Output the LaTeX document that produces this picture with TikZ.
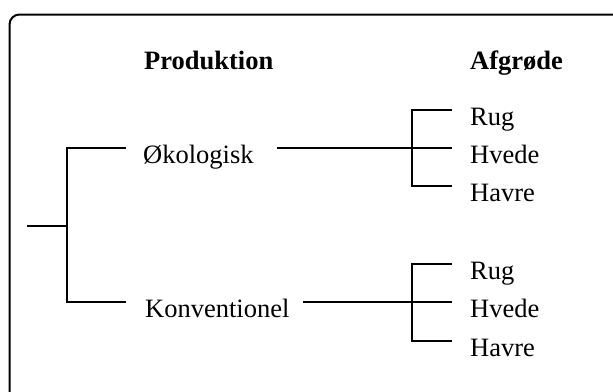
\documentclass[tikz,border=0pt]{standalone}
\usepackage{fontspec}
\setmainfont{Liberation Serif}
\begin{document}
\begin{tikzpicture}[x=1pt,y=-1pt,
  lbl/.style={inner sep=0pt, anchor=west, text height=31pt, text depth=0pt,
              font=\fontsize{26.5}{30}\selectfont},
  hdr/.style={lbl, font=\fontsize{26.5}{30}\selectfont\bfseries},
  branch/.style={line width=1.5pt, line cap=rect},
  frame/.style={line width=2pt, rounded corners=10pt}]
\clip (0,0) rectangle (613,391);
\fill[white] (0,0) rectangle (613,391);

% outer frame, running off the page to the right and bottom
\draw[frame] (9.5,400) -- (9.5,14.5) -- (625,14.5);

% column headers
\node[hdr] (prod) at (144,54) {Produktion};
\node[hdr] (afg)  at (470,54) {Afgrøde};

% production types
\node[lbl] (oko)  at (143,148) {Økologisk};
\node[lbl] (konv) at (145,302) {Konventionel};

% crops, organic
\node[lbl] (rugA)   at (470,110) {Rug};
\node[lbl] (hvedeA) at (470,148) {Hvede};
\node[lbl] (havreA) at (470,186) {Havre};

% crops, conventional
\node[lbl] (rugB)   at (470,264) {Rug};
\node[lbl] (hvedeB) at (470,302) {Hvede};
\node[lbl] (havreB) at (470,341) {Havre};

% junctions
\coordinate (root) at (28,226);
\coordinate (j)    at (67,226);
\coordinate (jA)   at (412,148);
\coordinate (jB)   at (412,302);

% root bracket
\draw[branch] (root) -- (j);
\draw[branch] ([xshift=-18pt]oko.west) -| (j) |- ([xshift=-20pt]konv.west);

% organic bracket
\draw[branch] ([xshift=24pt]oko.east) -- (jA);
\draw[branch] ([xshift=-19pt]rugA.west) -| (jA) |- ([xshift=-19pt]havreA.west);
\draw[branch] (jA) -- ([xshift=-19pt]hvedeA.west);

% conventional bracket
\draw[branch] ([xshift=14pt]konv.east) -- (jB);
\draw[branch] ([xshift=-19pt]rugB.west) -| (jB) |- ([xshift=-19pt]havreB.west);
\draw[branch] (jB) -- ([xshift=-19pt]hvedeB.west);
\end{tikzpicture}
\end{document}
